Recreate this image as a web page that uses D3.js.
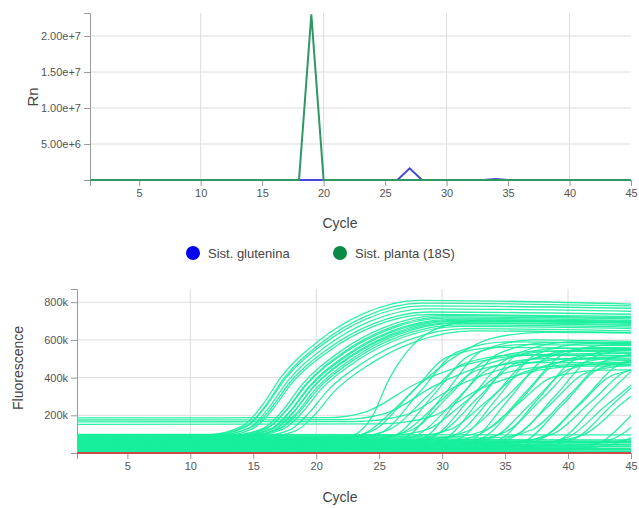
<!DOCTYPE html>
<meta charset="utf-8">
<head>
<title>qPCR</title>
<script src="https://d3js.org/d3.v7.min.js"></script>
<style>
  body { margin: 0; background: #fff; }
  text { font-family: "Liberation Sans", Arial, sans-serif; }
  .axis path, .axis line { stroke: #999; }
  .axis text { fill: #555; font-size: 11px; }
  .grid line { stroke: #ddd; stroke-width: 1; }
</style>
</head>

<div id="chart"></div>

<script>
  // cycles and top chart series (Rn)
  var cycles = [1,2,3,4,5,6,7,8,9,10,11,12,13,14,15,16,17,18,19,20,21,22,23,24,25,26,27,28,29,30,31,32,33,34,35,36,37,38,39,40,41,42,43,44,45];
  var blueRn = [0,0,0,0,0,0,0,0,0,0,0,0,0,0,0,0,0,0,0,0,0,0,0,0,0,0,1620000,0,0,0,0,0,0,150000,0,0,0,0,0,0,0,0,0,0,0];
  var greenRn = [0,0,0,0,0,0,0,0,0,0,0,0,0,0,0,0,0,0,23000000,0,0,0,0,0,0,0,0,0,0,0,0,0,0,0,0,0,0,0,0,0,0,0,0,0,0];
  var rnTicks = [5000000, 10000000, 15000000, 20000000];
  var cycleTicks = [5,10,15,20,25,30,35,40,45];
  var gridCycles = [10,20,30,40];
  var legendNames = ["Sist. glutenina", "Sist. planta (18S)"];

  // bottom chart: amplification curves, [cycle, fluorescence in k]
  var earlyCurves = [
    [[1,95],[11.2,95],[14.2,145],[15.7,252],[17.2,402],[20.2,595],[23.7,738],[28.2,810],[45,790]],
    [[1,90],[11.4,90],[14.4,139],[15.9,245],[17.4,393],[20.4,584],[23.9,725],[28.4,795],[45,780]],
    [[1,97],[11.5,97],[14.5,145],[16,247],[17.5,391],[20.5,575],[24,712],[28.5,780],[45,768]],
    [[1,88],[11.7,88],[14.7,135],[16.2,237],[17.7,379],[20.7,562],[24.2,697],[28.7,765],[45,752]],
    [[1,92],[11.9,92],[14.9,138],[16.4,236],[17.9,374],[20.9,551],[24.4,682],[28.9,748],[45,736]],
    [[1,85],[12,85],[15,131],[16.5,228],[18,365],[21,540],[24.5,670],[29,735],[45,725]],
    [[1,90],[12.9,90],[15.9,135],[17.4,231],[18.9,365],[21.9,538],[25.4,666],[29.9,730],[45,718]],
    [[1,86],[13.1,86],[16.1,131],[17.6,226],[19.1,359],[22.1,531],[25.6,658],[30.1,722],[45,712]],
    [[1,94],[13.2,94],[16.2,137],[17.7,231],[19.2,361],[22.2,529],[25.7,653],[30.2,715],[45,704]],
    [[1,82],[13.4,82],[16.4,126],[17.9,220],[19.4,351],[22.4,520],[25.9,645],[30.4,708],[45,698]],
    [[1,89],[13.5,89],[16.5,132],[18,224],[19.5,353],[22.5,518],[26,641],[30.5,702],[45,692]],
    [[1,80],[13.7,80],[16.7,123],[18.2,216],[19.7,346],[22.7,513],[26.2,636],[30.7,698],[45,688]],
    [[1,93],[13.8,93],[16.8,135],[18.3,225],[19.8,351],[22.8,512],[26.3,632],[30.8,692],[45,682]],
    [[1,84],[14,84],[17,126],[18.5,217],[20,344],[23,507],[26.5,628],[31,688],[45,676]],
    [[1,91],[14.2,91],[17.2,132],[18.7,221],[20.2,344],[23.2,503],[26.7,621],[31.2,680],[45,668]],
    [[1,87],[14.4,87],[17.4,128],[18.9,216],[20.4,339],[23.4,497],[26.9,614],[31.4,672],[45,660]],
    [[1,83],[14.9,83],[17.9,123],[19.4,210],[20.9,331],[23.9,487],[27.4,602],[31.9,660],[45,648]],
    [[1,79],[15.4,79],[18.4,119],[19.9,204],[21.4,324],[24.4,477],[27.9,591],[32.4,648],[45,638]]
  ];
  var midCurves = [
    [[1,45],[20,47],[23,95],[24.5,200],[25.7,380],[27.5,560],[30,670],[33,705],[45,698]],
    [[1,60],[21,62],[24,110],[26,220],[28,350],[31,510],[34,610],[38,640],[45,638]],
    [[1,186],[21,188],[24,220],[28,370],[32,470],[37,520],[45,530]],
    [[1,175],[22,177],[25.5,210],[29.5,360],[33.5,470],[38.5,540],[45,548]],
    [[1,165],[23,167],[27,200],[31,350],[35,450],[40,500],[45,510]],
    [[1,152],[25,154],[29,190],[33,340],[37,430],[42,470],[45,480]]
  ];
  var lateCurves = [
    [[1,70],[21.5,75],[24.5,119],[27.5,315],[30.5,511],[34.5,560],[45,552]],
    [[1,55],[22.2,60],[25.2,109],[28.2,322],[31.2,537],[35.2,590],[45,582]],
    [[1,80],[22.8,84],[25.8,124],[28.8,300],[31.8,476],[35.8,520],[45,515]],
    [[1,40],[23.3,45],[26.3,94],[29.3,307],[32.3,522],[36.3,575],[45,570]],
    [[1,65],[23.8,69],[26.8,107],[29.8,272],[32.8,439],[36.8,480],[45,478]],
    [[1,30],[24.2,36],[27.2,87],[30.2,315],[33.2,543],[37.2,600],[45,592]],
    [[1,75],[24.6,80],[27.6,122],[30.6,307],[33.6,494],[37.6,540],[45,535]],
    [[1,50],[25,54],[28,95],[31,275],[34,455],[38,500],[45,498]],
    [[1,20],[25.5,26],[28.5,77],[31.5,302],[34.5,528],[38.5,585],[45,580]],
    [[1,90],[25.9,94],[28.9,127],[31.9,275],[34.9,423],[38.9,460],[45,462]],
    [[1,35],[26.3,40],[29.3,87],[32.3,295],[35.3,503],[39.3,555],[45,552]],
    [[1,60],[26.8,65],[29.8,106],[32.8,290],[35.8,474],[39.8,520],[45,518]],
    [[1,15],[27.2,21],[30.2,73],[33.2,302],[36.2,533],[40.2,590],[45,586]],
    [[1,85],[27.6,89],[30.6,124],[33.6,278],[36.6,432],[40.6,470],[45,470]],
    [[1,45],[28,50],[31,95],[34,295],[37,495],[41,545],[45,543]],
    [[1,25],[28.5,31],[31.5,81],[34.5,302],[37.5,525],[41.5,580],[45,577]],
    [[1,70],[28.9,74],[31.9,113],[34.9,285],[37.9,457],[41.9,500],[45,499]],
    [[1,10],[29.3,16],[32.3,65],[35.3,285],[38.3,505],[42.3,560],[45,558]],
    [[1,55],[29.8,59],[32.8,94],[35.8,248],[38.8,402],[42.8,440],[45,441]],
    [[1,30],[30.2,35],[33.2,80],[36.2,280],[39.2,480],[43.2,530],[45,530]],
    [[1,80],[30.7,85],[33.7,130],[36.7,328],[39.7,526],[43.7,575],[45,574]],
    [[1,40],[31.1,45],[34.1,85],[37.1,265],[40.1,445],[44.1,490],[45,490]],
    [[1,20],[31.6,25],[34.6,73],[37.6,285],[40.6,497],[44.6,550],[45,550]],
    [[1,65],[32,70],[35,111],[38,292],[41,475],[45,518]],
    [[1,35],[32.5,39],[35.5,79],[38.5,252],[41.5,426],[45.5,470]],
    [[1,50],[33,55],[36,101],[39,305],[42,509],[46,560]],
    [[1,15],[33.6,20],[36.6,64],[39.6,258],[42.6,452],[46.6,500]],
    [[1,75],[34.1,80],[37.1,122],[40.1,308],[43.1,494],[47.1,540]],
    [[1,25],[34.7,29],[37.7,69],[40.7,243],[43.7,417],[47.7,460]],
    [[1,45],[35.2,50],[38.2,93],[41.2,283],[44.2,473],[48.2,520]],
    [[1,60],[35.8,64],[38.8,102],[41.8,270],[44.8,438],[48.8,480]],
    [[1,20],[36.3,25],[39.3,68],[42.3,260],[45.3,452]],
    [[1,40],[36.9,44],[39.9,81],[42.9,245],[45.9,409]],
    [[1,30],[37.5,35],[40.5,75],[43.5,255],[46.5,435]],
    [[1,55],[38.2,59],[41.2,96],[44.2,258],[47.2,420]],
    [[1,10],[39.5,14],[42.5,54],[45.5,230],[48.5,406]],
    [[1,35],[40.5,39],[43.5,74],[46.5,228]],
    [[1,25],[41.5,29],[44.5,65],[47.5,222]],
    [[1,50],[42.5,54],[45.5,88],[48.5,240]]
  ];
  var flatCurves = [
    [[1,5],[45,6]], [[1,9],[45,8]], [[1,13],[45,15]], [[1,17],[45,18]],
    [[1,22],[45,24]], [[1,26],[45,25]], [[1,31],[45,34]], [[1,36],[45,38]],
    [[1,41],[45,44]], [[1,46],[45,47]], [[1,52],[45,55]], [[1,57],[45,58]],
    [[1,62],[45,60]], [[1,67],[45,64]], [[1,73],[45,70]], [[1,99],[45,96]]
  ];
  var fluorTicks = [200, 400, 600, 800];

  var W = 639, H = 508;
  var svg = d3.select("#chart").append("svg")
    .attr("width", W).attr("height", H);

  // ---------- top chart ----------
  var x1 = d3.scaleLinear().domain([1, 45]).range([90, 631]);
  var y1 = d3.scaleLinear().domain([0, 23200000]).range([180, 13]);

  var g1 = svg.append("g");
  g1.append("g").attr("class", "grid")
    .selectAll("line").data(rnTicks).enter().append("line")
      .attr("x1", x1.range()[0]).attr("x2", x1.range()[1])
      .attr("y1", function(d) { return y1(d); })
      .attr("y2", function(d) { return y1(d); });
  g1.append("g").attr("class", "grid")
    .selectAll("line").data(gridCycles).enter().append("line")
      .attr("x1", function(d) { return x1(d); })
      .attr("x2", function(d) { return x1(d); })
      .attr("y1", y1.range()[0]).attr("y2", y1.range()[1]);

  g1.append("g").attr("class", "axis")
    .attr("transform", "translate(90,0)")
    .call(d3.axisLeft(y1).tickValues(rnTicks).tickFormat(d3.format(".2e")));
  g1.append("g").attr("class", "axis")
    .attr("transform", "translate(0,180)")
    .call(d3.axisBottom(x1).tickValues(cycleTicks).tickFormat(d3.format("d")));

  var line1 = d3.line()
    .x(function(d, i) { return x1(cycles[i]); })
    .y(function(d) { return y1(d); });

  g1.append("path").datum(blueRn)
    .attr("d", line1).attr("fill", "none")
    .attr("stroke", "#4646dc").attr("stroke-width", 2);
  g1.append("path").datum(greenRn)
    .attr("d", line1).attr("fill", "none")
    .attr("stroke", "#2f9863").attr("stroke-width", 2);

  g1.append("text")
    .attr("x", 340).attr("y", 228)
    .attr("text-anchor", "middle")
    .style("font-size", "14px").style("fill", "#444")
    .text("Cycle");
  g1.append("text")
    .attr("transform", "translate(38,97) rotate(-90)")
    .attr("text-anchor", "middle")
    .style("font-size", "15px").style("fill", "#444")
    .text("Rn");

  // legend
  var legendColors = ["#0000f0", "#0b8a47"];
  var legendX = [193, 340];
  var lg = svg.append("g").selectAll("g").data(legendNames).enter().append("g")
    .attr("transform", function(d, i) { return "translate(" + legendX[i] + ",253)"; });
  lg.append("circle").attr("r", 7)
    .attr("fill", function(d, i) { return legendColors[i]; });
  lg.append("text").attr("x", 15).attr("dy", "0.35em")
    .style("font-size", "13px").style("fill", "#444")
    .text(function(d) { return d; });

  // ---------- bottom chart ----------
  var x2 = d3.scaleLinear().domain([1, 45]).range([77, 631]);
  var y2 = d3.scaleLinear().domain([0, 870]).range([453, 289]);

  var g2 = svg.append("g");
  g2.append("g").attr("class", "grid")
    .selectAll("line").data(fluorTicks).enter().append("line")
      .attr("x1", x2.range()[0]).attr("x2", x2.range()[1])
      .attr("y1", function(d) { return y2(d); })
      .attr("y2", function(d) { return y2(d); });
  g2.append("g").attr("class", "grid")
    .selectAll("line").data(gridCycles).enter().append("line")
      .attr("x1", function(d) { return x2(d); })
      .attr("x2", function(d) { return x2(d); })
      .attr("y1", y2.range()[0]).attr("y2", y2.range()[1]);

  g2.append("g").attr("class", "axis")
    .attr("transform", "translate(77,0)")
    .call(d3.axisLeft(y2).tickValues(fluorTicks).tickFormat(function(d) { return d + "k"; }));
  g2.append("g").attr("class", "axis")
    .attr("transform", "translate(0,453)")
    .call(d3.axisBottom(x2).tickValues(cycleTicks).tickFormat(d3.format("d")));

  svg.append("clipPath").attr("id", "plot2")
    .append("rect").attr("x", 77).attr("y", 285).attr("width", 554).attr("height", 170);

  var line2 = d3.line()
    .curve(d3.curveMonotoneX)
    .x(function(d) { return x2(d[0]); })
    .y(function(d) { return y2(d[1]); });

  var allCurves = flatCurves.concat(lateCurves, midCurves, earlyCurves);
  g2.append("g").attr("clip-path", "url(#plot2)")
    .selectAll("path").data(allCurves).enter().append("path")
      .attr("d", line2).attr("fill", "none")
      .attr("stroke", "#17ee9c").attr("stroke-width", 1.3)
      .attr("stroke-opacity", 0.9);

  // threshold / zero line
  g2.append("line")
    .attr("x1", x2(1)).attr("x2", x2(45))
    .attr("y1", y2(0)).attr("y2", y2(0))
    .attr("stroke", "#cc4a4a").attr("stroke-width", 2);

  g2.append("text")
    .attr("x", 340).attr("y", 502)
    .attr("text-anchor", "middle")
    .style("font-size", "14px").style("fill", "#444")
    .text("Cycle");
  g2.append("text")
    .attr("transform", "translate(23,368) rotate(-90)")
    .attr("text-anchor", "middle")
    .style("font-size", "14px").style("fill", "#444")
    .text("Fluorescence");
</script>
